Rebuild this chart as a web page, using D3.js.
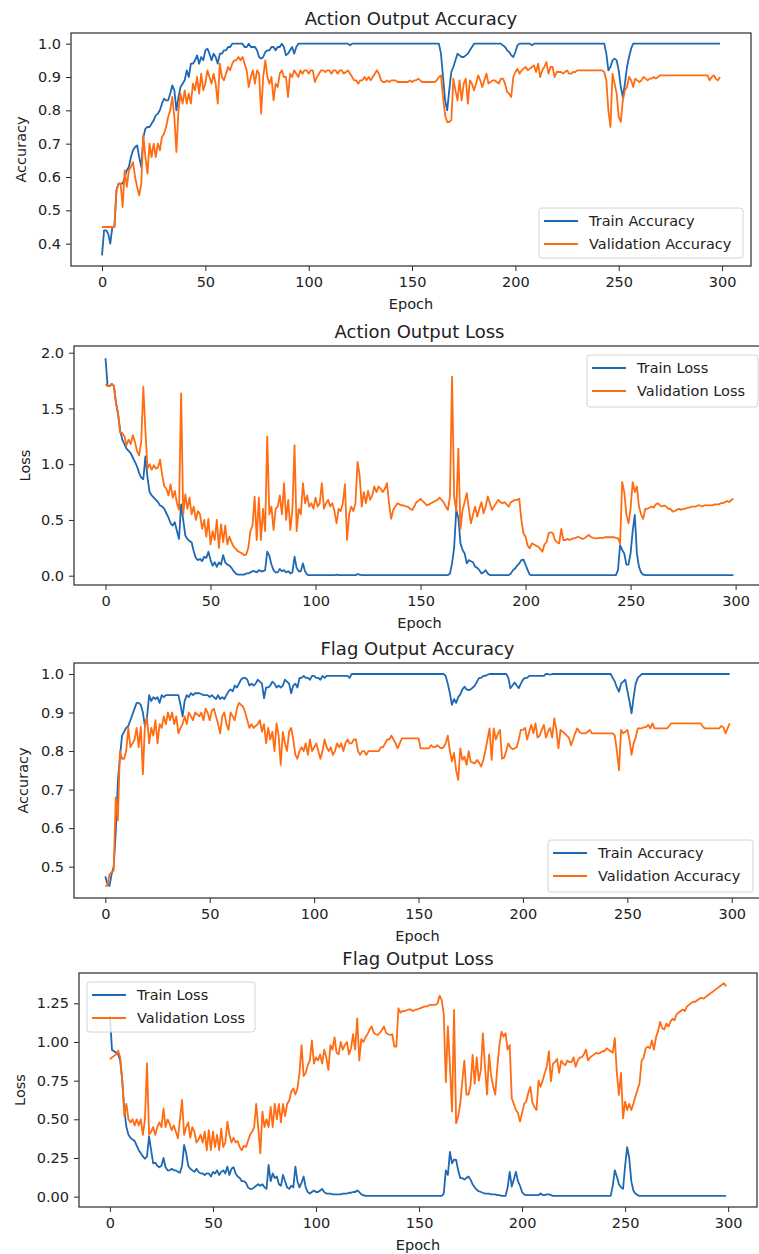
<!DOCTYPE html>
<html>
<head>
<meta charset="utf-8">
<script src="https://cdn.jsdelivr.net/npm/d3@7"></script>
<style>
  body { margin: 0; background: #fff; }
  svg { display: block; }
  text { font-family: "DejaVu Sans", sans-serif; fill: #222; }
</style>
</head>
<body>
<svg id="chart" width="759" height="1254"></svg>
<script>
// epochs 0..299 and tick values
var epochs = d3.range(300);
var xTicks = [0, 50, 100, 150, 200, 250, 300];

// Action output accuracy
var actionTrainAcc = [
  0.365,0.44,0.44,0.43,0.40,0.45,0.45,0.56,0.58,0.58,
  0.58,0.60,0.62,0.63,0.66,0.68,0.69,0.695,0.66,0.63,
  0.72,0.745,0.75,0.75,0.76,0.77,0.785,0.79,0.80,0.82,
  0.835,0.83,0.83,0.85,0.875,0.86,0.80,0.84,0.87,0.88,
  0.89,0.92,0.90,0.94,0.94,0.95,0.965,0.94,0.96,0.95,
  0.98,0.985,0.97,0.95,0.97,0.96,0.94,0.97,0.97,0.98,
  0.98,0.99,0.99,1,1,1,1,1,1,0.99,
  0.99,1,0.99,0.99,0.99,0.98,0.96,0.955,0.96,0.975,
  0.98,0.98,0.99,0.99,0.98,0.99,0.99,1,0.99,0.965,
  0.97,0.98,0.99,0.97,0.99,1,1,1,1,1,
  1,1,1,1,1,1,1,1,1,1,
  1,1,1,1,1,1,1,1,1,1,
  0.995,1,1,1,1,1,1,1,1,1,
  1,1,1,1,1,1,1,1,1,1,
  1,1,1,1,1,1,1,1,1,1,
  1,1,1,1,1,1,1,1,1,1,
  1,1,1,1,0.97,0.90,0.83,0.80,0.86,0.915,
  0.93,0.95,0.97,0.965,0.96,0.96,0.965,0.97,0.98,0.99,
  1,1,1,1,1,1,1,1,1,1,
  1,1,1,1,0.995,0.99,0.98,0.975,0.965,0.96,
  0.975,0.995,1,1,1,1,1,1,0.995,1,
  1,1,1,1,1,1,1,1,1,1,
  1,1,1,1,1,1,1,1,1,1,
  1,1,1,1,1,1,1,1,1,1,
  1,1,1,1,0.97,0.92,0.93,0.95,0.955,0.95,
  0.92,0.87,0.84,0.88,0.93,0.96,0.985,1,1,1,
  1,1,1,1,1,1,1,1,1,1,
  1,1,1,1,1,1,1,1,1,1,
  1,1,1,1,1,1,1,1,1,1,
  1,1,1,1,1,1,1,1,1,1
];
var actionValAcc = [
  0.45,0.45,0.45,0.45,0.45,0.45,0.45,0.56,0.58,0.58,
  0.51,0.62,0.57,0.62,0.63,0.645,0.60,0.57,0.545,0.58,
  0.725,0.66,0.61,0.70,0.66,0.70,0.66,0.70,0.68,0.72,
  0.73,0.75,0.78,0.80,0.84,0.78,0.675,0.80,0.85,0.82,
  0.86,0.82,0.85,0.82,0.88,0.86,0.90,0.85,0.91,0.86,
  0.88,0.92,0.90,0.88,0.91,0.88,0.82,0.94,0.90,0.89,
  0.91,0.93,0.92,0.94,0.95,0.95,0.96,0.95,0.96,0.94,
  0.92,0.87,0.90,0.92,0.88,0.92,0.91,0.79,0.90,0.95,
  0.90,0.88,0.90,0.83,0.88,0.87,0.91,0.92,0.90,0.90,
  0.84,0.91,0.90,0.92,0.91,0.90,0.92,0.91,0.92,0.92,
  0.91,0.92,0.92,0.885,0.90,0.91,0.92,0.92,0.915,0.92,
  0.92,0.91,0.92,0.92,0.91,0.92,0.92,0.91,0.915,0.92,
  0.91,0.90,0.89,0.89,0.88,0.89,0.89,0.90,0.89,0.90,
  0.89,0.90,0.91,0.92,0.91,0.89,0.885,0.885,0.89,0.885,
  0.89,0.89,0.89,0.885,0.885,0.885,0.885,0.885,0.885,0.89,
  0.885,0.89,0.89,0.895,0.89,0.885,0.885,0.885,0.885,0.885,
  0.885,0.885,0.89,0.90,0.905,0.84,0.785,0.765,0.765,0.77,
  0.895,0.86,0.83,0.89,0.83,0.88,0.895,0.82,0.89,0.88,
  0.86,0.88,0.905,0.89,0.87,0.89,0.91,0.88,0.885,0.89,
  0.89,0.885,0.88,0.895,0.895,0.88,0.855,0.85,0.84,0.90,
  0.915,0.925,0.91,0.92,0.925,0.93,0.92,0.925,0.93,0.935,
  0.915,0.94,0.90,0.92,0.93,0.945,0.91,0.93,0.93,0.90,
  0.915,0.915,0.915,0.91,0.915,0.92,0.91,0.91,0.915,0.915,
  0.92,0.92,0.92,0.92,0.92,0.92,0.92,0.92,0.92,0.92,
  0.92,0.92,0.92,0.915,0.89,0.80,0.75,0.91,0.88,0.85,
  0.78,0.765,0.83,0.86,0.87,0.90,0.89,0.87,0.895,0.89,
  0.885,0.89,0.90,0.895,0.89,0.895,0.895,0.90,0.895,0.90,
  0.905,0.905,0.905,0.905,0.905,0.905,0.905,0.905,0.905,0.905,
  0.905,0.905,0.905,0.905,0.905,0.905,0.905,0.905,0.905,0.905,
  0.905,0.905,0.905,0.905,0.89,0.90,0.905,0.895,0.89,0.90
];

// Action output loss
var actionTrainLoss = [
  1.95,1.70,1.70,1.72,1.70,1.55,1.45,1.30,1.22,1.18,
  1.14,1.12,1.10,1.06,1.02,0.98,0.92,0.88,0.865,1.07,
  0.88,0.75,0.72,0.70,0.68,0.66,0.63,0.62,0.60,0.56,
  0.52,0.47,0.45,0.48,0.40,0.33,0.64,0.50,0.36,0.33,
  0.31,0.30,0.22,0.16,0.14,0.15,0.13,0.17,0.16,0.215,
  0.14,0.09,0.12,0.08,0.12,0.10,0.185,0.12,0.10,0.09,
  0.07,0.04,0.02,0.01,0.01,0.01,0.01,0.02,0.02,0.03,
  0.04,0.04,0.03,0.05,0.04,0.04,0.05,0.215,0.18,0.10,
  0.05,0.03,0.03,0.06,0.04,0.05,0.03,0.04,0.02,0.03,
  0.17,0.07,0.04,0.04,0.11,0.04,0.01,0.005,0.005,0.005,
  0.005,0.005,0.005,0.005,0.005,0.005,0.005,0.005,0.005,0.005,
  0.01,0.005,0.005,0.005,0.005,0.005,0.005,0.005,0.005,0.005,
  0.015,0.01,0.005,0.005,0.005,0.005,0.005,0.005,0.005,0.005,
  0.005,0.005,0.005,0.005,0.005,0.005,0.005,0.005,0.005,0.005,
  0.005,0.005,0.005,0.005,0.005,0.005,0.005,0.005,0.005,0.005,
  0.005,0.005,0.005,0.005,0.005,0.005,0.005,0.005,0.005,0.005,
  0.005,0.005,0.005,0.005,0.02,0.11,0.25,0.59,0.52,0.29,
  0.23,0.20,0.11,0.14,0.13,0.12,0.08,0.07,0.05,0.02,
  0.03,0.05,0.02,0.005,0.005,0.005,0.005,0.005,0.005,0.005,
  0.005,0.005,0.005,0.02,0.05,0.065,0.09,0.11,0.14,0.145,
  0.10,0.05,0.01,0.005,0.005,0.005,0.005,0.005,0.005,0.005,
  0.005,0.005,0.005,0.005,0.005,0.005,0.005,0.005,0.005,0.005,
  0.005,0.005,0.005,0.005,0.005,0.005,0.005,0.005,0.005,0.005,
  0.005,0.005,0.005,0.005,0.005,0.005,0.005,0.005,0.005,0.005,
  0.005,0.005,0.005,0.005,0.05,0.275,0.23,0.20,0.10,0.10,
  0.20,0.40,0.545,0.20,0.08,0.03,0.01,0.005,0.005,0.005,
  0.005,0.005,0.005,0.005,0.005,0.005,0.005,0.005,0.005,0.005,
  0.005,0.005,0.005,0.005,0.005,0.005,0.005,0.005,0.005,0.005,
  0.005,0.005,0.005,0.005,0.005,0.005,0.005,0.005,0.005,0.005,
  0.005,0.005,0.005,0.005,0.005,0.005,0.005,0.005,0.005,0.005
];
var actionValLoss = [
  1.72,1.70,1.70,1.72,1.70,1.55,1.45,1.28,1.28,1.25,
  1.17,1.22,1.18,1.26,1.20,1.12,1.08,1.20,1.695,1.30,
  0.96,1.00,0.95,0.99,0.96,0.97,1.04,0.90,0.80,0.78,
  0.72,0.82,0.70,0.76,0.65,0.59,1.635,0.55,0.73,0.60,
  0.70,0.55,0.62,0.50,0.58,0.55,0.42,0.50,0.35,0.51,
  0.28,0.40,0.32,0.50,0.25,0.46,0.30,0.45,0.28,0.35,
  0.30,0.26,0.24,0.22,0.21,0.20,0.185,0.19,0.25,0.40,
  0.45,0.71,0.32,0.70,0.32,0.60,0.40,1.25,0.55,0.62,
  0.41,0.60,0.62,0.72,0.55,0.83,0.50,0.68,0.41,0.60,
  1.17,0.40,0.60,0.55,0.83,0.65,0.72,0.62,0.65,0.60,
  0.70,0.62,0.65,0.83,0.60,0.65,0.68,0.62,0.65,0.58,
  0.47,0.60,0.58,0.65,0.82,0.32,0.55,0.62,0.58,0.65,
  1.02,0.90,0.62,0.75,0.65,0.76,0.68,0.72,0.80,0.75,
  0.80,0.78,0.75,0.78,0.83,0.65,0.51,0.59,0.62,0.65,
  0.64,0.63,0.63,0.62,0.62,0.60,0.59,0.62,0.66,0.67,
  0.69,0.67,0.65,0.63,0.64,0.65,0.66,0.67,0.68,0.70,
  0.68,0.66,0.62,0.59,0.71,1.785,0.71,0.58,1.14,0.42,
  0.59,0.66,0.74,0.60,0.47,0.55,0.62,0.53,0.60,0.66,
  0.56,0.62,0.71,0.65,0.59,0.62,0.65,0.68,0.66,0.65,
  0.66,0.64,0.62,0.66,0.67,0.68,0.68,0.69,0.50,0.38,
  0.35,0.27,0.245,0.29,0.28,0.27,0.26,0.24,0.215,0.28,
  0.30,0.38,0.39,0.38,0.32,0.30,0.29,0.42,0.32,0.32,
  0.33,0.32,0.33,0.335,0.34,0.35,0.34,0.33,0.335,0.35,
  0.365,0.35,0.34,0.335,0.335,0.34,0.34,0.34,0.345,0.345,
  0.345,0.345,0.345,0.34,0.335,0.29,0.84,0.75,0.55,0.47,
  0.60,0.84,0.75,0.80,0.62,0.55,0.51,0.60,0.60,0.61,
  0.62,0.61,0.64,0.65,0.63,0.62,0.63,0.62,0.60,0.60,
  0.575,0.58,0.59,0.60,0.59,0.60,0.60,0.61,0.61,0.62,
  0.62,0.62,0.63,0.63,0.62,0.63,0.63,0.63,0.63,0.63,
  0.64,0.64,0.64,0.65,0.65,0.66,0.67,0.66,0.68,0.69
];

// Flag output accuracy
var flagTrainAcc = [
  0.475,0.455,0.45,0.48,0.50,0.59,0.72,0.785,0.84,0.85,
  0.86,0.865,0.88,0.895,0.91,0.925,0.925,0.92,0.90,0.863,
  0.89,0.945,0.93,0.94,0.935,0.94,0.925,0.945,0.94,0.945,
  0.945,0.945,0.945,0.945,0.945,0.945,0.92,0.89,0.93,0.945,
  0.94,0.95,0.945,0.95,0.95,0.95,0.948,0.945,0.945,0.945,
  0.94,0.945,0.94,0.935,0.945,0.935,0.94,0.935,0.945,0.955,
  0.96,0.955,0.97,0.965,0.975,0.985,0.99,0.99,0.985,0.97,
  0.975,0.97,0.975,0.985,0.98,0.975,0.937,0.965,0.965,0.97,
  0.98,0.975,0.965,0.97,0.965,0.97,0.985,0.98,0.975,0.95,
  0.97,0.975,0.965,0.99,0.99,0.995,0.99,0.99,0.985,0.995,
  0.995,0.99,0.99,0.985,0.995,0.99,0.995,0.995,0.995,0.995,
  0.995,0.995,0.995,0.995,0.995,0.995,0.995,0.99,1,1,
  1,1,1,1,1,1,1,1,1,1,
  1,1,1,1,1,1,1,1,1,1,
  1,1,1,1,1,1,1,1,1,1,
  1,1,1,1,1,1,1,1,1,1,
  1,1,1,0.995,0.975,0.95,0.92,0.935,0.925,0.94,
  0.947,0.96,0.967,0.96,0.958,0.96,0.965,0.97,0.98,0.99,
  0.99,0.995,0.995,0.998,1,1,1,1,1,1,
  1,1,1,0.99,0.963,0.97,0.978,0.97,0.963,0.975,
  0.985,0.99,0.99,0.995,0.995,0.995,0.995,0.995,0.995,0.995,
  0.995,1,1,0.998,1,1,1,1,1,1,
  1,1,1,1,1,1,1,1,1,1,
  1,1,1,1,1,1,1,1,1,1,
  1,1,1,0.99,0.98,0.965,0.954,0.975,0.98,0.985,
  0.957,0.93,0.898,0.94,0.975,0.99,0.995,1,1,1,
  1,1,1,1,1,1,1,1,1,1,
  1,1,1,1,1,1,1,1,1,1,
  1,1,1,1,1,1,1,1,1,1,
  1,1,1,1,1,1,1,1,1,1
];
var flagValAcc = [
  0.45,0.45,0.48,0.485,0.49,0.68,0.62,0.80,0.78,0.78,
  0.80,0.86,0.81,0.82,0.83,0.86,0.81,0.863,0.74,0.87,
  0.885,0.82,0.86,0.84,0.88,0.82,0.87,0.86,0.89,0.87,
  0.90,0.88,0.90,0.87,0.89,0.846,0.86,0.87,0.89,0.87,
  0.90,0.89,0.88,0.90,0.895,0.89,0.90,0.88,0.91,0.90,
  0.88,0.905,0.91,0.89,0.87,0.846,0.89,0.90,0.87,0.855,
  0.90,0.89,0.88,0.91,0.925,0.92,0.915,0.90,0.88,0.86,
  0.87,0.86,0.865,0.87,0.88,0.85,0.87,0.82,0.86,0.83,
  0.85,0.80,0.872,0.84,0.764,0.85,0.82,0.80,0.85,0.86,
  0.83,0.79,0.78,0.80,0.81,0.80,0.82,0.79,0.83,0.80,
  0.81,0.82,0.80,0.78,0.80,0.83,0.81,0.80,0.81,0.79,
  0.80,0.82,0.81,0.82,0.80,0.82,0.83,0.82,0.82,0.83,
  0.83,0.80,0.79,0.80,0.80,0.79,0.80,0.80,0.80,0.80,
  0.80,0.80,0.81,0.81,0.82,0.83,0.83,0.84,0.83,0.82,
  0.807,0.82,0.833,0.833,0.833,0.833,0.833,0.833,0.833,0.833,
  0.833,0.807,0.807,0.807,0.807,0.807,0.815,0.81,0.81,0.815,
  0.81,0.807,0.81,0.82,0.84,0.80,0.773,0.795,0.75,0.725,
  0.807,0.777,0.785,0.764,0.80,0.773,0.77,0.768,0.777,0.77,
  0.76,0.777,0.80,0.83,0.859,0.777,0.859,0.83,0.845,0.855,
  0.78,0.783,0.80,0.82,0.81,0.805,0.807,0.81,0.83,0.855,
  0.855,0.86,0.83,0.85,0.868,0.846,0.872,0.835,0.84,0.855,
  0.868,0.835,0.85,0.86,0.835,0.885,0.855,0.807,0.855,0.85,
  0.846,0.84,0.835,0.815,0.83,0.846,0.859,0.85,0.846,0.846,
  0.846,0.85,0.855,0.846,0.846,0.846,0.846,0.846,0.846,0.846,
  0.846,0.846,0.846,0.846,0.84,0.80,0.75,0.855,0.846,0.85,
  0.855,0.83,0.79,0.82,0.835,0.859,0.859,0.859,0.862,0.862,
  0.868,0.859,0.872,0.859,0.859,0.859,0.859,0.859,0.859,0.859,
  0.865,0.872,0.872,0.872,0.872,0.872,0.872,0.872,0.872,0.872,
  0.872,0.872,0.872,0.872,0.872,0.872,0.865,0.859,0.859,0.859,
  0.859,0.859,0.859,0.859,0.859,0.865,0.862,0.846,0.859,0.872
];

// Flag output loss
var flagTrainLoss = [
  1.17,0.95,0.94,0.93,0.92,0.88,0.75,0.56,0.45,0.40,
  0.38,0.37,0.36,0.33,0.30,0.28,0.26,0.245,0.26,0.39,
  0.30,0.215,0.22,0.20,0.19,0.20,0.25,0.19,0.17,0.17,
  0.18,0.17,0.17,0.16,0.155,0.20,0.334,0.28,0.20,0.18,
  0.17,0.16,0.18,0.16,0.15,0.15,0.14,0.15,0.15,0.13,
  0.16,0.15,0.17,0.14,0.16,0.17,0.15,0.194,0.14,0.18,
  0.19,0.15,0.13,0.12,0.10,0.10,0.09,0.06,0.05,0.05,
  0.06,0.07,0.08,0.07,0.08,0.06,0.05,0.205,0.10,0.15,
  0.12,0.13,0.08,0.07,0.14,0.10,0.06,0.05,0.07,0.06,
  0.194,0.10,0.06,0.09,0.13,0.06,0.03,0.02,0.03,0.04,
  0.03,0.03,0.04,0.05,0.03,0.02,0.02,0.02,0.015,0.015,
  0.015,0.015,0.015,0.02,0.02,0.02,0.025,0.025,0.03,0.03,
  0.04,0.03,0.015,0.01,0.005,0.005,0.005,0.005,0.005,0.005,
  0.005,0.005,0.005,0.005,0.005,0.005,0.005,0.005,0.005,0.005,
  0.005,0.005,0.005,0.005,0.005,0.005,0.005,0.005,0.005,0.005,
  0.005,0.005,0.005,0.005,0.005,0.005,0.005,0.005,0.005,0.005,
  0.005,0.005,0.02,0.17,0.14,0.29,0.215,0.24,0.237,0.17,
  0.12,0.12,0.11,0.12,0.13,0.11,0.08,0.06,0.045,0.035,
  0.03,0.025,0.02,0.02,0.02,0.015,0.015,0.015,0.01,0.01,
  0.005,0.005,0.005,0.06,0.16,0.065,0.11,0.16,0.10,0.07,
  0.03,0.015,0.01,0.01,0.01,0.01,0.01,0.01,0.01,0.02,
  0.01,0.01,0.015,0.015,0.01,0.005,0.005,0.005,0.005,0.005,
  0.005,0.005,0.005,0.005,0.005,0.005,0.005,0.005,0.005,0.005,
  0.005,0.005,0.005,0.005,0.005,0.005,0.005,0.005,0.005,0.005,
  0.005,0.005,0.005,0.005,0.07,0.17,0.13,0.08,0.06,0.05,
  0.20,0.32,0.25,0.10,0.04,0.02,0.01,0.005,0.005,0.005,
  0.005,0.005,0.005,0.005,0.005,0.005,0.005,0.005,0.005,0.005,
  0.005,0.005,0.005,0.005,0.005,0.005,0.005,0.005,0.005,0.005,
  0.005,0.005,0.005,0.005,0.005,0.005,0.005,0.005,0.005,0.005,
  0.005,0.005,0.005,0.005,0.005,0.005,0.005,0.005,0.005,0.005
];
var flagValLoss = [
  0.89,0.90,0.91,0.92,0.944,0.90,0.75,0.52,0.60,0.50,
  0.48,0.50,0.46,0.50,0.46,0.50,0.40,0.50,0.862,0.40,
  0.42,0.45,0.40,0.45,0.48,0.45,0.57,0.45,0.50,0.47,
  0.43,0.46,0.42,0.377,0.50,0.625,0.40,0.45,0.48,0.38,
  0.45,0.42,0.35,0.37,0.40,0.35,0.42,0.30,0.43,0.30,
  0.42,0.32,0.40,0.30,0.44,0.32,0.35,0.485,0.40,0.35,
  0.38,0.35,0.36,0.32,0.30,0.33,0.32,0.36,0.40,0.42,
  0.45,0.60,0.44,0.28,0.55,0.45,0.50,0.45,0.58,0.45,
  0.60,0.50,0.60,0.48,0.60,0.52,0.60,0.62,0.68,0.70,
  0.66,0.70,0.80,0.98,0.78,0.80,0.85,0.88,1.01,0.86,
  0.90,0.88,0.92,0.86,0.95,0.90,0.82,0.98,0.95,1.03,
  0.93,0.92,1.00,0.95,0.98,1.00,0.92,0.96,1.05,0.95,
  1.153,0.88,1.02,1.00,1.03,1.05,1.08,1.10,1.06,1.05,
  1.045,1.06,1.078,1.10,1.06,1.05,1.045,1.05,0.97,0.97,
  1.218,1.19,1.20,1.20,1.205,1.21,1.21,1.20,1.207,1.21,
  1.215,1.22,1.225,1.23,1.23,1.24,1.24,1.24,1.24,1.25,
  1.30,1.27,1.18,0.74,1.10,0.85,0.55,1.207,0.474,0.52,
  0.60,0.75,0.88,0.66,0.66,0.72,0.916,0.73,0.90,0.75,
  0.82,1.056,0.84,0.66,0.92,0.78,0.71,0.66,0.84,0.98,
  1.067,1.035,1.056,0.95,0.98,0.636,0.60,0.56,0.54,0.485,
  0.54,0.60,0.615,0.67,0.71,0.61,0.58,0.56,0.75,0.71,
  0.75,0.80,0.84,0.94,0.745,0.86,0.87,0.89,0.80,0.88,
  0.86,0.85,0.88,0.87,0.87,0.90,0.84,0.88,0.90,0.90,
  0.92,0.95,0.88,0.90,0.91,0.92,0.93,0.925,0.93,0.94,
  0.94,0.96,0.95,0.94,0.93,1.024,0.80,0.657,0.80,0.506,
  0.614,0.56,0.60,0.56,0.60,0.647,0.69,0.733,0.88,0.90,
  0.96,0.97,0.96,1.01,0.95,1.03,1.07,1.13,1.09,1.08,
  1.12,1.10,1.13,1.15,1.14,1.18,1.19,1.20,1.21,1.20,
  1.23,1.24,1.25,1.26,1.26,1.27,1.28,1.285,1.28,1.29,
  1.30,1.31,1.32,1.33,1.34,1.35,1.36,1.37,1.38,1.36
];

var accTicks = [0.4, 0.5, 0.6, 0.7, 0.8, 0.9, 1.0];
var actionLossTicks = [0, 0.5, 1.0, 1.5, 2.0];
var flagAccTicks = [0.5, 0.6, 0.7, 0.8, 0.9, 1.0];
var flagLossTicks = [0, 0.25, 0.5, 0.75, 1.0, 1.25];

var blue = '#1f68b3', orange = '#ff6c12';

var panels = [
  { title: 'Action Output Accuracy', ylabel: 'Accuracy',
    train: actionTrainAcc, val: actionValAcc,
    names: ['Train Accuracy', 'Validation Accuracy'],
    box: { l: 71, r: 751, t: 33, b: 266 }, ydom: [0.333, 1.032],
    yticks: accTicks, fmt: '.1f', ylabelX: 26,
    legend: { x: 539, y: 208, w: 204, h: 50 } },
  { title: 'Action Output Loss', ylabel: 'Loss',
    train: actionTrainLoss, val: actionValLoss,
    names: ['Train Loss', 'Validation Loss'],
    box: { l: 74, r: 765, t: 346, b: 585 }, ydom: [-0.0834, 2.06],
    yticks: actionLossTicks, fmt: '.1f', ylabelX: 30,
    legend: { x: 587, y: 355, w: 171, h: 52 } },
  { title: 'Flag Output Accuracy', ylabel: 'Accuracy',
    train: flagTrainAcc, val: flagValAcc,
    names: ['Train Accuracy', 'Validation Accuracy'],
    box: { l: 74, r: 761, t: 663, b: 898 }, ydom: [0.4187, 1.0285],
    yticks: flagAccTicks, fmt: '.1f', ylabelX: 28,
    legend: { x: 548, y: 840, w: 205, h: 52 } },
  { title: 'Flag Output Loss', ylabel: 'Loss',
    train: flagTrainLoss, val: flagValLoss,
    names: ['Train Loss', 'Validation Loss'],
    box: { l: 79, r: 757, t: 973, b: 1207 }, ydom: [-0.067, 1.446],
    yticks: flagLossTicks, fmt: '.2f', ylabelX: 25,
    legend: { x: 87, y: 982, w: 168, h: 50 } }
];

var svg = d3.select('#chart');
var defs = svg.append('defs');

function drawPanel(p, idx) {
  var b = p.box;
  var x = d3.scaleLinear().domain([-15, 314]).range([b.l, b.r]);
  var y = d3.scaleLinear().domain(p.ydom).range([b.b, b.t]);
  var g = svg.append('g');

  defs.append('clipPath').attr('id', 'clip' + idx)
    .append('rect').attr('x', b.l).attr('y', b.t)
    .attr('width', b.r - b.l).attr('height', b.b - b.t);

  var line = d3.line().x((d, i) => x(epochs[i])).y(d => y(d));
  var plot = g.append('g').attr('clip-path', 'url(#clip' + idx + ')');
  [[p.train, blue], [p.val, orange]].forEach(function (s) {
    plot.append('path').datum(s[0]).attr('d', line)
      .attr('fill', 'none').attr('stroke', s[1])
      .attr('stroke-width', 1.8).attr('stroke-linejoin', 'round');
  });

  // axes frame
  g.append('rect').attr('x', b.l).attr('y', b.t)
    .attr('width', b.r - b.l).attr('height', b.b - b.t)
    .attr('fill', 'none').attr('stroke', '#2a2a2a').attr('stroke-width', 1.2);

  var xa = g.append('g').attr('transform', 'translate(0,' + b.b + ')')
    .call(d3.axisBottom(x).tickValues(xTicks).tickSize(5).tickPadding(6).tickFormat(d3.format('d')));
  var ya = g.append('g').attr('transform', 'translate(' + b.l + ',0)')
    .call(d3.axisLeft(y).tickValues(p.yticks).tickSize(5).tickPadding(5).tickFormat(d3.format(p.fmt)));
  [xa, ya].forEach(function (a) {
    a.select('.domain').remove();
    a.attr('font-family', null).attr('font-size', null);
    a.selectAll('line').attr('stroke', '#2a2a2a');
    a.selectAll('text').style('font-size', '14.5px').attr('fill', '#222');
  });

  g.append('text').attr('x', (b.l + Math.min(b.r, 751)) / 2 + (b.r > 751 ? (b.r - 751) / 2 : 0))
    .attr('y', b.t - 8.5).attr('text-anchor', 'middle')
    .style('font-size', '18px').text(p.title);

  g.append('text').attr('x', (b.l + b.r) / 2).attr('y', b.b + 43)
    .attr('text-anchor', 'middle').style('font-size', '14.5px').text('Epoch');

  g.append('text')
    .attr('transform', 'translate(' + p.ylabelX + ',' + (b.t + b.b) / 2 + ') rotate(-90)')
    .attr('text-anchor', 'middle').style('font-size', '14.5px').text(p.ylabel);

  // legend
  var L = p.legend;
  var lg = g.append('g').attr('transform', 'translate(' + L.x + ',' + L.y + ')');
  lg.append('rect').attr('width', L.w).attr('height', L.h).attr('rx', 3)
    .attr('fill', '#fff').attr('fill-opacity', 0.8)
    .attr('stroke', '#d4d4d4').attr('stroke-width', 1);
  [blue, orange].forEach(function (c, i) {
    var cy = 13 + i * 23;
    lg.append('line').attr('x1', 5).attr('x2', 39).attr('y1', cy).attr('y2', cy)
      .attr('stroke', c).attr('stroke-width', 2);
    lg.append('text').attr('x', 50).attr('y', cy + 5)
      .style('font-size', '14.5px').text(p.names[i]);
  });
}

panels.forEach(drawPanel);
</script>
</body>
</html>
